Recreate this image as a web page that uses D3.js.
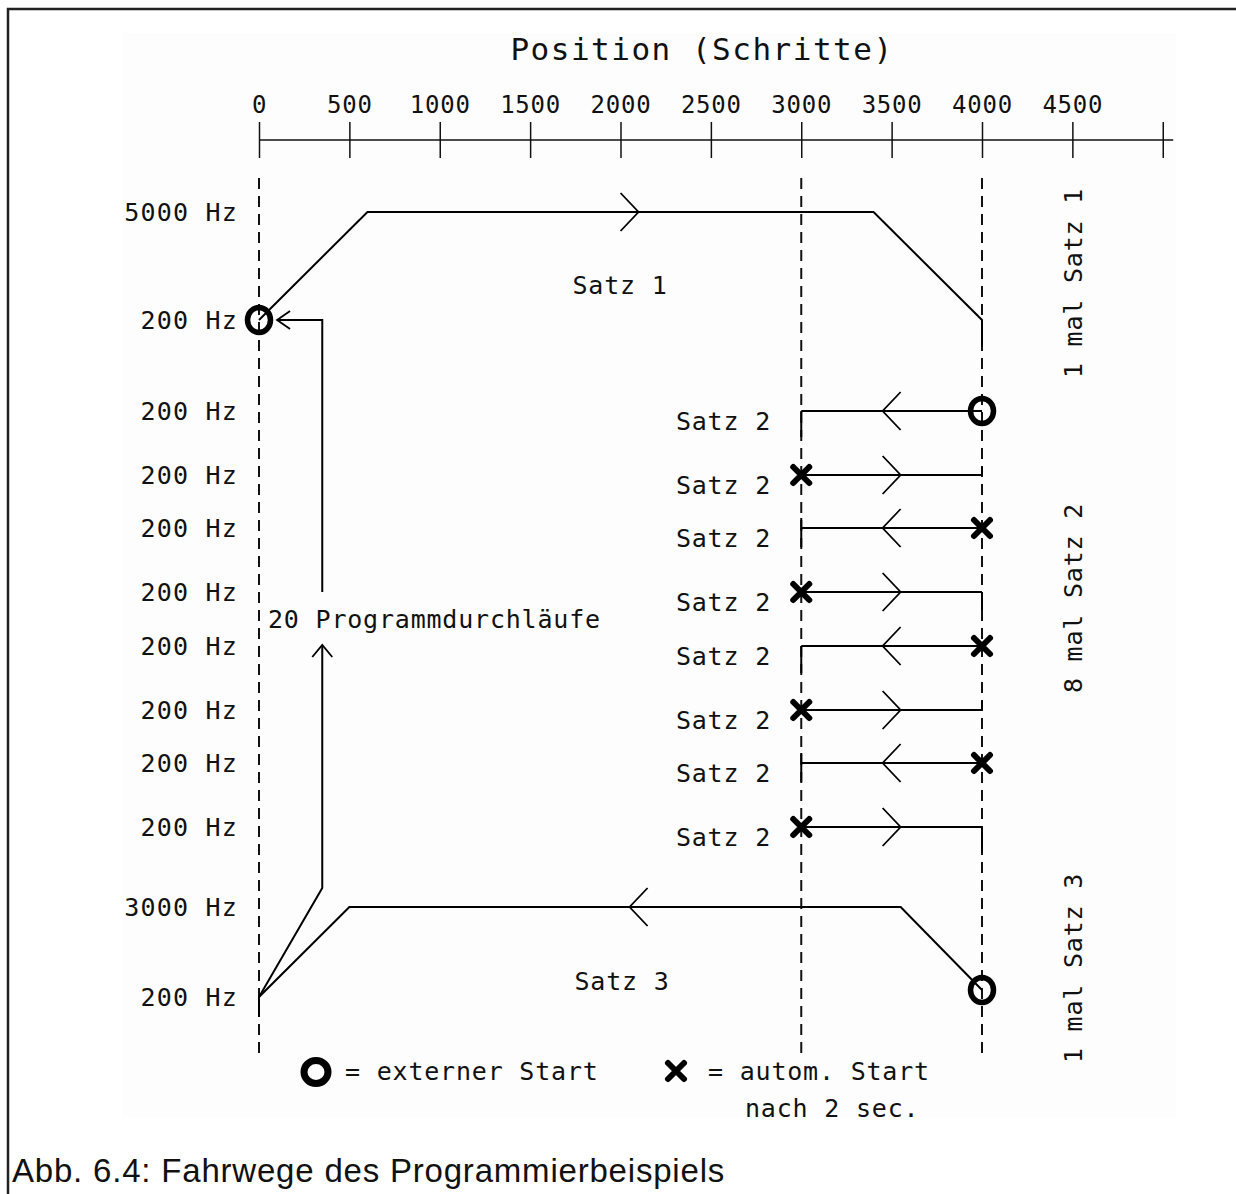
<!DOCTYPE html>
<html>
<head>
<meta charset="utf-8">
<script src="https://cdn.jsdelivr.net/npm/d3@7"></script>
<style>
  body { margin: 0; background: #fff; }
  svg text { font-family: "DejaVu Sans Mono", monospace; fill: #111; }
  .caption { font-family: "Liberation Sans", Arial, sans-serif; }
</style>
</head>
<body>
<div id="chart"></div>
<script>
// x ticks in steps (last tick is unlabelled)
const xTicks = [0, 500, 1000, 1500, 2000, 2500, 3000, 3500, 4000, 4500, 5000];
const guidePositions = [0, 3000, 4000];

// frequency labels on the left, y is a track position (0 = top of the guide lines)
const freqLabels = ["5000 Hz", "200 Hz", "200 Hz", "200 Hz", "200 Hz", "200 Hz",
                    "200 Hz", "200 Hz", "200 Hz", "200 Hz", "3000 Hz", "200 Hz"];
const freqTrack = [34, 142, 233, 297, 350, 414, 468, 532, 585, 649, 729, 819];

// Satz 1 and Satz 3 ramps: [position, track]
const satz1Path = [[0, 142], [600, 34], [3400, 34], [4000, 142], [4000, 169]];
const satz3Path = [[4000, 812], [3550, 729], [500, 729], [0, 819], [0, 839]];
// loop back: 20 Programmdurchläufe
const loopLower = [[0, 819], [350, 710], [350, 467]];
const loopUpper = [[350, 414], [350, 142], [100, 142]];

// Satz 2 rows
const rowTrack = [233, 297, 350, 414, 468, 532, 585, 649];
const rowDir = ["left", "right", "left", "right", "left", "right", "left", "right"];
const rowMarker = ["o", "x", "x", "x", "x", "x", "x", "x"];
const rowStub = [[233, 259], [289, 297], [340, 369], [414, 432],
                 [468, 495], [523, 532], [575, 604], [649, 675]];

// arrows: position (centre), track, direction, size
const arrows = [
  { pos: 2050, track: 34, dir: "right", big: true },
  { pos: 2100, track: 729, dir: "left", big: true },
  { pos: 100, track: 142, dir: "left-tip", big: false },
  { pos: 350, track: 467, dir: "up-tip", big: false }
];

const sideLabels = ["1 mal Satz 1", "8 mal Satz 2", "1 mal Satz 3"];
const sideTrack = [105, 420, 790];

function drawChart(selector) {
  const W = 1236, H = 1194;
  const svg = d3.select(selector).append("svg")
      .attr("width", W).attr("height", H);

  // frame and panel
  svg.append("rect").attr("x", 8).attr("y", 9).attr("width", W + 20).attr("height", H + 20)
      .attr("fill", "#fff").attr("stroke", "#222").attr("stroke-width", 2.5);
  svg.append("rect").attr("x", 123).attr("y", 33).attr("width", 1053).attr("height", 1084)
      .attr("fill", "#fdfdfd");

  const x = d3.scaleLinear().domain([0, 5000]).range([259, 1162.75]);
  const y = d3.scaleLinear().domain([0, 875]).range([178, 1053]);

  // title
  svg.append("text")
      .attr("x", 702).attr("y", 60)
      .attr("text-anchor", "middle")
      .style("font-size", "31px")
      .style("letter-spacing", "1.5px")
      .text("Position (Schritte)");

  // top axis
  const axis = svg.append("g")
      .attr("transform", "translate(0,140)")
      .call(d3.axisTop(x).tickValues(xTicks).tickSize(18).tickPadding(9)
        .tickFormat(d => d === 5000 ? "" : d));
  axis.select(".domain").remove();
  axis.selectAll(".tick line").attr("y1", 18).attr("stroke", "#111").attr("stroke-width", 1.5);
  axis.selectAll(".tick text")
      .attr("fill", "#111")
      .style("font-size", "24px")
      .style("letter-spacing", "0.8px")
      .style("font-family", "DejaVu Sans Mono, monospace");
  axis.append("line")
      .attr("x1", x(0)).attr("x2", x(5058))
      .attr("stroke", "#111").attr("stroke-width", 1.5);

  // dashed guides
  svg.append("g").selectAll("line").data(guidePositions).join("line")
      .attr("x1", d => x(d)).attr("x2", d => x(d))
      .attr("y1", y(0)).attr("y2", y(875))
      .attr("stroke", "#111").attr("stroke-width", 2)
      .attr("stroke-dasharray", "11,7");

  // left frequency labels
  svg.append("g").selectAll("text").data(freqLabels).join("text")
      .attr("x", 238).attr("y", (d, i) => y(freqTrack[i]) + 9)
      .attr("text-anchor", "end")
      .style("font-size", "25px")
      .style("letter-spacing", "1.2px")
      .text(d => d);

  const line = d3.line().x(d => x(d[0])).y(d => y(d[1]));
  const paths = svg.append("g")
      .attr("fill", "none").attr("stroke", "#000").attr("stroke-width", 2);

  [satz1Path, satz3Path, loopLower, loopUpper].forEach(p => {
    paths.append("path").attr("d", line(p));
  });

  // Satz 2 rows
  rowTrack.forEach((t, i) => {
    paths.append("path").attr("d", line([[3000, t], [4000, t]]));
    const stubX = rowMarker[i] === "o" || rowDir[i] === "left" ? 3000 : 4000;
    paths.append("path").attr("d", line([[stubX, rowStub[i][0]], [stubX, rowStub[i][1]]]));
    arrows.push({ pos: 3500, track: t, dir: rowDir[i], big: true });
  });

  // arrow heads (open chevrons)
  arrows.forEach(a => {
    const cx = x(a.pos), cy = y(a.track);
    let d;
    if (a.dir === "right") {
      d = `M${cx - 9},${cy - 19}L${cx + 9},${cy}L${cx - 9},${cy + 19}`;
    } else if (a.dir === "left") {
      d = `M${cx + 9},${cy - 19}L${cx - 9},${cy}L${cx + 9},${cy + 19}`;
    } else if (a.dir === "left-tip") {
      d = `M${cx + 13},${cy - 9}L${cx},${cy}L${cx + 13},${cy + 9}`;
    } else {
      d = `M${cx - 10},${cy + 12}L${cx},${cy}L${cx + 10},${cy + 12}`;
    }
    paths.append("path").attr("d", d).attr("stroke-width", 1.8);
  });

  // markers
  const markers = [
    { type: "o", pos: 0, track: 142 },
    { type: "o", pos: 4000, track: 812 }
  ];
  rowTrack.forEach((t, i) => {
    const pos = rowMarker[i] === "o" ? 4000 : (rowDir[i] === "right" ? 3000 : 4000);
    markers.push({ type: rowMarker[i], pos: pos, track: t });
  });

  function drawMarker(g, type, cx, cy, big) {
    if (type === "o") {
      g.append("ellipse").attr("cx", cx).attr("cy", cy)
          .attr("rx", big ? 12 : 11.5).attr("ry", big ? 11.5 : 12.5)
          .attr("fill", "none").attr("stroke", "#000").attr("stroke-width", big ? 7 : 5.5);
    } else {
      const s = 8;
      g.append("path")
          .attr("d", `M${cx - s},${cy - s}L${cx + s},${cy + s}M${cx - s},${cy + s}L${cx + s},${cy - s}`)
          .attr("stroke", "#000").attr("stroke-width", 6).attr("stroke-linecap", "round");
    }
  }
  const mg = svg.append("g");
  markers.forEach(m => drawMarker(mg, m.type, x(m.pos), y(m.track), false));

  // Satz labels
  const textSize = "25px", spacing = "0.8px";
  svg.append("g").selectAll("text").data(rowTrack).join("text")
      .attr("x", 771).attr("y", d => y(d) + 19)
      .attr("text-anchor", "end")
      .style("font-size", textSize).style("letter-spacing", spacing)
      .text("Satz 2");
  svg.append("text").attr("x", 620).attr("y", y(116)).attr("text-anchor", "middle")
      .style("font-size", textSize).style("letter-spacing", spacing).text("Satz 1");
  svg.append("text").attr("x", 622).attr("y", y(812)).attr("text-anchor", "middle")
      .style("font-size", textSize).style("letter-spacing", spacing).text("Satz 3");
  svg.append("text").attr("x", 268).attr("y", y(450))
      .style("font-size", textSize).style("letter-spacing", spacing)
      .text("20 Programmdurchläufe");

  // rotated labels on the right
  svg.append("g").selectAll("text").data(sideLabels).join("text")
      .attr("transform", (d, i) => `translate(1082,${y(sideTrack[i])}) rotate(-90)`)
      .attr("text-anchor", "middle")
      .style("font-size", textSize).style("letter-spacing", spacing)
      .text(d => d);

  // legend
  const lg = svg.append("g");
  drawMarker(lg, "o", 316, 1072, true);
  drawMarker(lg, "x", 676, 1071, false);
  lg.append("text").attr("x", 345).attr("y", 1080)
      .style("font-size", textSize).style("letter-spacing", spacing).text("= externer Start");
  lg.append("text").attr("x", 708).attr("y", 1080)
      .style("font-size", textSize).style("letter-spacing", spacing).text("= autom. Start");
  lg.append("text").attr("x", 745).attr("y", 1117)
      .style("font-size", textSize).style("letter-spacing", spacing).text("nach 2 sec.");

  // caption
  svg.append("text").attr("class", "caption")
      .attr("x", 12).attr("y", 1182)
      .style("font-size", "33px")
      .style("letter-spacing", "0.8px")
      .style("font-family", "Liberation Sans, Arial, sans-serif")
      .text("Abb. 6.4: Fahrwege des Programmierbeispiels");
}

drawChart("#chart");
</script>
</body>
</html>
